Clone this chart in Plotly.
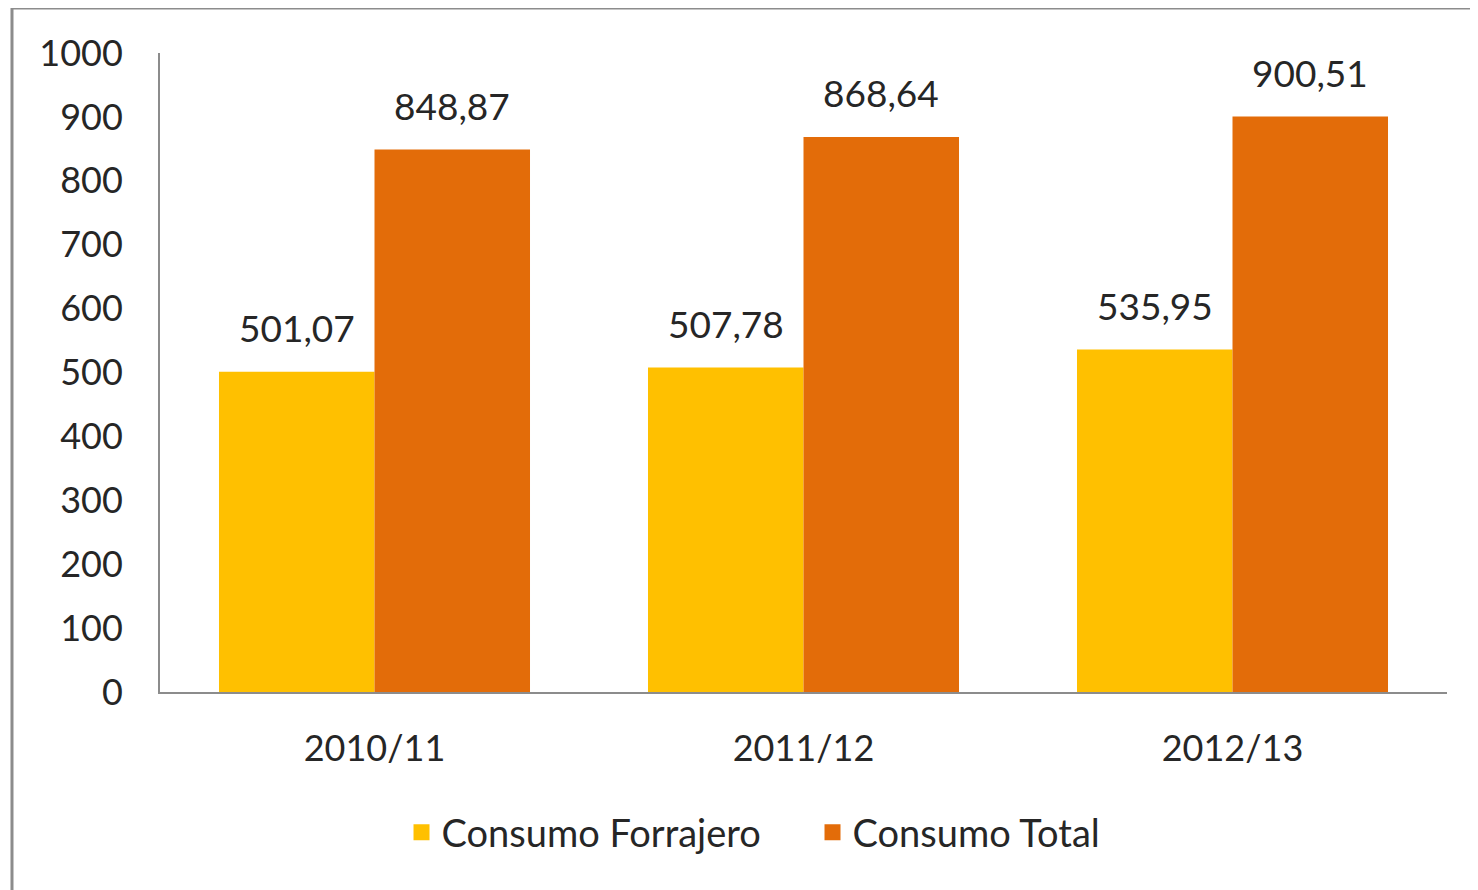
import plotly.graph_objects as go

categories = ["2010/11", "2011/12", "2012/13"]
forrajero = [501.07, 507.78, 535.95]
total = [848.87, 868.64, 900.51]
series_names = ["Consumo Forrajero", "Consumo Total"]
colors = ["#FFC000", "#E36C09"]
y_ticks = list(range(0, 1001, 100))

FONT = "Lato"
TXT = "#262626"
W, H = 1470, 882
BARGAP = 0.275

fig = go.Figure()
for vals, name, col in [(forrajero, series_names[0], colors[0]), (total, series_names[1], colors[1])]:
    fig.add_trace(go.Bar(
        x=categories, y=vals, name=name, showlegend=False,
        marker=dict(color=col, line=dict(width=0)),
    ))
    # legend proxy with larger square symbol
    fig.add_trace(go.Scatter(
        x=[None], y=[None], mode="markers", name=name, showlegend=True,
        marker=dict(symbol="square", size=20, color=col),
    ))

# data labels above bars
half = (1 - BARGAP) / 4
annotations = []
for i, cat in enumerate(categories):
    for vals, off in [(forrajero, -half), (total, half)]:
        annotations.append(dict(
            x=i + off, y=vals[i], xref="x", yref="y",
            text=f"{vals[i]:.2f}".replace(".", ","),
            showarrow=False, yanchor="bottom", yshift=20,
            font=dict(family=FONT, size=37, color=TXT),
        ))

fig.update_layout(
    width=W, height=H,
    margin=dict(l=152, r=31, t=45, b=198),
    paper_bgcolor="white", plot_bgcolor="white",
    barmode="group", bargap=BARGAP, bargroupgap=0,
    separators=",.",
    font=dict(family=FONT, size=36, color=TXT),
    showlegend=True,
    legend=dict(orientation="h", x=0.507, xanchor="center", y=-0.22, yanchor="middle",
                font=dict(family=FONT, size=38, color=TXT), itemwidth=30,
                entrywidth=366, entrywidthmode="pixels",
                traceorder="normal"),
    xaxis=dict(showline=True, linecolor="#8c8c8c", linewidth=2, ticks="",
               showgrid=False, ticklabelstandoff=24,
               tickfont=dict(family=FONT, size=36, color=TXT)),
    yaxis=dict(range=[0, 1000], tickvals=y_ticks, showline=True, linecolor="#8c8c8c",
               linewidth=2, ticks="", showgrid=False, zeroline=False,
               ticklabelstandoff=28,
               tickfont=dict(family=FONT, size=36, color=TXT)),
    annotations=annotations,
    shapes=[dict(type="rect", xref="paper", yref="paper",
                 x0=-0.115, x1=1.05, y0=-0.35, y1=1.0704,
                 line=dict(color="#8c8c8c", width=3), fillcolor="rgba(0,0,0,0)",
                 layer="below")],
)

fig.write_html("out.html")
